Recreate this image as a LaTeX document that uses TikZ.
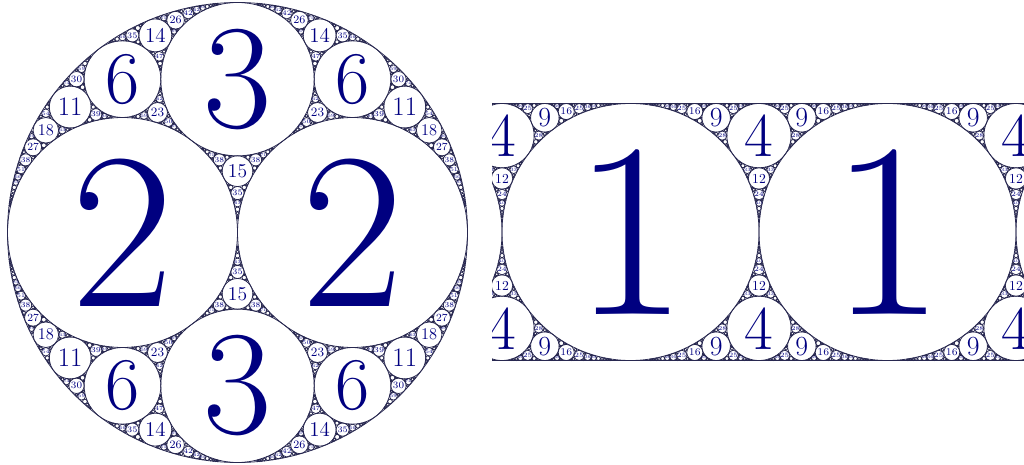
\documentclass[tikz,border=0pt]{standalone}
\usepackage{fontspec}
\usepackage{tikz}

\definecolor{gasketink}{RGB}{40,40,80}
\definecolor{gasketnum}{RGB}{0,0,128}

% circle given as curvature k and k*centre (a,b)
\newcount\aplbl
\def\apsplit#1,#2,#3;{\def\apk{#1}\def\apx{#2}\def\apy{#3}}
\newcommand\apcircle[3]{%
  \draw[ring] ({\apcx+\aps*(#2/#1)},{\apcy+\aps*(#3/#1)}) circle[radius={\aps/#1}];
  \ifnum#1<\aplabmax\relax
    \ifnum#1<10 \pgfmathsetmacro\apfs{1.38*\aps/#1}%
    \else\ifnum#1<100 \pgfmathsetmacro\apfs{0.91*\aps/#1}%
    \else \pgfmathsetmacro\apfs{0.68*\aps/#1}\fi\fi
    \global\advance\aplbl by 1
    \node[numlabel, font=\fontsize{\apfs pt}{\apfs pt}\selectfont] (lbl\the\aplbl)
      at ({\apcx+\aps*(#2/#1)},{\apcy+\aps*(#3/#1)}) {#1};
  \fi}
% fill the gap between #1,#2,#3 (#4 = circle on the other side)
\newcommand\apgap[4]{%
  \begingroup
  \apsplit#1;\let\ka\apk\let\xa\apx\let\ya\apy
  \apsplit#2;\let\kb\apk\let\xb\apx\let\yb\apy
  \apsplit#3;\let\kc\apk\let\xc\apx\let\yc\apy
  \apsplit#4;\let\kd\apk\let\xd\apx\let\yd\apy
  \edef\kn{\the\numexpr2*(\ka+\kb+\kc)-\kd\relax}%
  \ifnum\kn<\apmax\relax
    \edef\xn{\the\numexpr2*(\xa+\xb+\xc)-\xd\relax}%
    \edef\yn{\the\numexpr2*(\ya+\yb+\yc)-\yd\relax}%
    \apcircle{\kn}{\xn}{\yn}%
    \edef\apnext{%
      \noexpand\apgap{#1}{#2}{\kn,\xn,\yn}{#3}%
      \noexpand\apgap{#1}{#3}{\kn,\xn,\yn}{#2}%
      \noexpand\apgap{#2}{#3}{\kn,\xn,\yn}{#1}}%
    \expandafter\apnext
  \fi
  \endgroup}

\begin{document}
\begin{tikzpicture}[
    x=0.025cm, y=-0.025cm,
    ring/.style={draw=gasketink, line width=0.55pt},
    numlabel/.style={text=gasketnum, inner sep=0pt}
]
\useasboundingbox (0,0) rectangle (1024,465);

% Round gasket (-1,2,2,3)
\def\aps{230}\def\apcx{237.5}\def\apcy{232.5}
\def\apmax{300}\def\aplabmax{90}
\draw[ring] (\apcx,\apcy) circle[radius=230];
\apcircle{2}{1}{0}
\apcircle{2}{-1}{0}
\apcircle{3}{0}{2}
\apgap{2,1,0}{2,-1,0}{3,0,2}{-1,0,0}
\apgap{-1,0,0}{2,1,0}{3,0,2}{2,-1,0}
\apgap{-1,0,0}{2,-1,0}{3,0,2}{2,1,0}
\apgap{-1,0,0}{2,1,0}{2,-1,0}{3,0,2}

% Strip gasket (0,0,1,1)
\def\aps{128.5}\def\apcx{630.5}\def\apcy{232}
\def\apmax{175}\def\aplabmax{50}
\draw[ring] (492,103.5) -- (1024,103.5);
\draw[ring] (492,360.5) -- (1024,360.5);
\begin{scope}
\clip (492,100) rectangle (1024,364);
\apcircle{1}{-2}{0}
\apcircle{1}{0}{0}
\apcircle{1}{2}{0}
\apcircle{1}{4}{0}
\apgap{0,0,-1}{1,-2,0}{1,0,0}{0,0,1}
\apgap{0,0,1}{1,-2,0}{1,0,0}{0,0,-1}
\apgap{0,0,-1}{1,0,0}{1,2,0}{0,0,1}
\apgap{0,0,1}{1,0,0}{1,2,0}{0,0,-1}
\apgap{0,0,-1}{1,2,0}{1,4,0}{0,0,1}
\apgap{0,0,1}{1,2,0}{1,4,0}{0,0,-1}
\end{scope}

\end{tikzpicture}
\end{document}
